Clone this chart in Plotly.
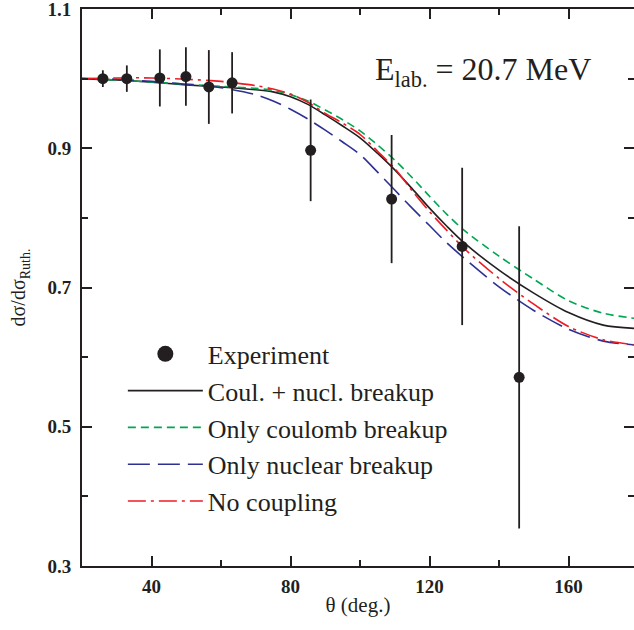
import plotly.graph_objects as go

# ---------------- data ----------------
theta_exp = [26.0, 32.9, 42.4, 49.9, 56.5, 63.2, 85.8, 109.1, 129.4, 145.8]
ratio_exp = [1.000, 1.000, 1.001, 1.003, 0.988, 0.994, 0.897, 0.827, 0.759, 0.571]
err_exp = [0.012, 0.019, 0.041, 0.042, 0.053, 0.044, 0.073, 0.092, 0.113, 0.217]

theta_fit = [20, 30, 40, 50, 60, 70, 75, 80, 85, 90, 95, 100, 105, 110, 115,
             120, 125, 130, 140, 150, 160, 170, 180]
coul_nucl = [1.000, 0.998, 0.995, 0.991, 0.988, 0.984, 0.981, 0.974, 0.963, 0.948,
             0.932, 0.915, 0.893, 0.869, 0.842, 0.814, 0.788, 0.764, 0.725, 0.692,
             0.664, 0.646, 0.641]
only_coul = [1.000, 0.998, 0.995, 0.992, 0.989, 0.986, 0.983, 0.977, 0.968, 0.955,
             0.941, 0.925, 0.905, 0.883, 0.858, 0.831, 0.805, 0.782, 0.745, 0.712,
             0.681, 0.663, 0.655]
only_nucl = [1.000, 0.999, 0.996, 0.992, 0.987, 0.977, 0.968, 0.956, 0.942, 0.926,
             0.909, 0.891, 0.866, 0.840, 0.814, 0.789, 0.764, 0.742, 0.701, 0.667,
             0.640, 0.623, 0.617]
no_coupling = [1.000, 1.001, 1.001, 0.999, 0.996, 0.990, 0.985, 0.978, 0.966, 0.950,
               0.936, 0.920, 0.896, 0.871, 0.839, 0.809, 0.782, 0.756, 0.713, 0.676,
               0.644, 0.625, 0.617]

x_ticks = [40, 80, 120, 160]
x_ticklabels = ["40", "80", "120", "160"]
y_ticks = [0.3, 0.5, 0.7, 0.9, 1.1]
y_ticklabels = ["0.3", "0.5", "0.7", "0.9", "1.1"]

names = ["Experiment", "Coul. + nucl. breakup", "Only coulomb breakup",
         "Only nuclear breakup", "No coupling"]

SERIF = "Liberation Serif"
INK = "#231f20"

fig = go.Figure()

curves = [
    (coul_nucl, names[1], INK, "solid", 2),
    (only_coul, names[2], "#00a651", "8px,5px", 3),
    (only_nucl, names[3], "#2e3192", "22px,8px", 4),
    (no_coupling, names[4], "#ed1c24", "18px,5px,3px,5px", 5),
]
for vals, nm, col, dash, rank in curves:
    fig.add_trace(go.Scatter(
        x=theta_fit, y=vals, mode="lines", name=nm, legendrank=rank,
        line=dict(color=col, width=1.6, dash=dash, shape="spline", smoothing=0.8),
    ))

fig.add_trace(go.Scatter(
    x=theta_exp, y=ratio_exp, mode="markers", name=names[0], showlegend=False,
    marker=dict(color=INK, size=11),
    error_y=dict(type="data", array=err_exp, visible=True, width=0,
                 thickness=1.8, color=INK),
))
# legend proxy for the experimental points
fig.add_trace(go.Scatter(
    x=[None], y=[None], mode="markers", name=names[0], legendrank=1,
    marker=dict(color=INK, size=18),
))

# right-hand inner ticks (no line)
fig.add_trace(go.Scatter(x=[None], y=[None], yaxis="y2", showlegend=False))

tickfont = dict(family=SERIF, size=19, color=INK, weight="bold")

fig.update_layout(
    width=634, height=630,
    margin=dict(l=82, r=0, t=9, b=64),
    paper_bgcolor="white", plot_bgcolor="white",
    font=dict(family=SERIF, color=INK),
    xaxis=dict(
        range=[20, 178.85], tickmode="array", tickvals=x_ticks,
        ticktext=["<b>%s</b>" % t for t in x_ticklabels],
        ticks="inside", ticklen=10, tickwidth=2, tickcolor=INK,
        minor=dict(dtick=20, tick0=0, ticks="inside", ticklen=6, tickwidth=2, tickcolor=INK),
        showline=True, linewidth=2, linecolor=INK, mirror="ticks",
        showgrid=False, zeroline=False,
        tickfont=tickfont, ticklabelstandoff=2, ticklabeloverflow="allow",
        title=dict(text="θ (deg.)", font=dict(family=SERIF, size=21), standoff=2),
    ),
    yaxis=dict(
        range=[0.3, 1.1], tickmode="array", tickvals=y_ticks,
        ticktext=["<b>%s</b>" % t for t in y_ticklabels],
        ticks="inside", ticklen=10, tickwidth=2, tickcolor=INK,
        minor=dict(dtick=0.1, tick0=0.3, ticks="inside", ticklen=6, tickwidth=2, tickcolor=INK),
        showline=True, linewidth=2, linecolor=INK,
        showgrid=False, zeroline=False,
        tickfont=tickfont, ticklabelstandoff=5, ticklabeloverflow="allow",
        title=dict(text="dσ/dσ<sub>Ruth.</sub>", font=dict(family=SERIF, size=20), standoff=16),
    ),
    yaxis2=dict(
        overlaying="y", side="right", matches="y", range=[0.3, 1.1],
        tickmode="array", tickvals=y_ticks, ticks="inside", ticklen=10, tickwidth=2,
        tickcolor=INK, showticklabels=False, showline=False,
        minor=dict(dtick=0.1, tick0=0.3, ticks="inside", ticklen=6, tickwidth=2, tickcolor=INK),
        showgrid=False, zeroline=False,
    ),
    legend=dict(
        x=0.074, y=0.423, xanchor="left", yanchor="top",
        font=dict(family=SERIF, size=26, color=INK),
        bgcolor="rgba(0,0,0,0)", itemwidth=75, tracegroupgap=0,
    ),
    showlegend=True,
    annotations=[dict(
        text="E<sub>lab.</sub> = 20.7 MeV", xref="paper", yref="paper",
        x=0.528, y=0.887, xanchor="left", yanchor="middle", showarrow=False,
        font=dict(family=SERIF, size=32, color=INK),
    )],
)

fig.write_html("out.html", config={"displayModeBar": False},
               post_script="document.body.style.margin='0';")
